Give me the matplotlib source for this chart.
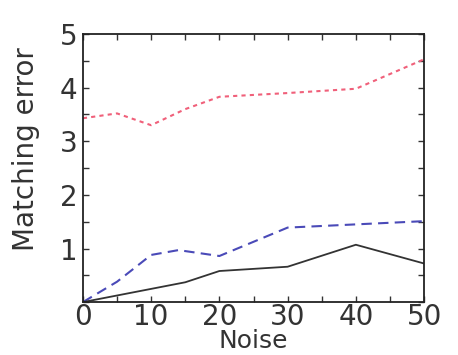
import numpy as np
import matplotlib.pyplot as plt
from matplotlib.ticker import MultipleLocator

# Data
x_red = [0, 5, 10, 15, 20, 30, 40, 50]
y_red = [3.43, 3.52, 3.30, 3.60, 3.83, 3.90, 3.98, 4.53]

x_blue = [0, 5, 10, 14, 20, 30, 40, 50]
y_blue = [0.0, 0.38, 0.88, 0.97, 0.86, 1.39, 1.45, 1.51]

x_black = [0, 15, 20, 30, 40, 50]
y_black = [0.0, 0.37, 0.58, 0.66, 1.07, 0.72]

xticks = [0, 10, 20, 30, 40, 50]
yticks = [1, 2, 3, 4, 5]

fig = plt.figure(figsize=(4.58, 3.55), dpi=100)
ax = fig.add_axes([0.181, 0.149, 0.745, 0.755])

ax.plot(x_red, y_red, color='#f0607a', lw=1.5, linestyle=(0, (2, 2)))
ax.plot(x_blue, y_blue, color='#4a4ab8', lw=1.5, linestyle=(0, (5, 3)))
ax.plot(x_black, y_black, color='#333333', lw=1.3)

ax.set_xlim(0, 50)
ax.set_ylim(0, 5)
ax.set_xticks(xticks)
ax.set_yticks(yticks)
ax.xaxis.set_minor_locator(MultipleLocator(5))
ax.yaxis.set_minor_locator(MultipleLocator(0.5))
ax.tick_params(which='both', direction='in', top=True, right=True,
               length=4, width=1, labelsize=20, colors='#333333')
ax.tick_params(axis='x', pad=1)
ax.tick_params(axis='y', pad=4)
for s in ax.spines.values():
    s.set_linewidth(1.3)
    s.set_color('#222222')

ax.set_xlabel('Noise', fontsize=18, color='#333333')
ax.xaxis.set_label_coords(0.5, -0.1)
ax.set_ylabel('Matching error', fontsize=20, color='#333333')
ax.yaxis.set_label_coords(-0.125, 0.57)

fig.savefig('out.png', dpi=100)
plt.close()
